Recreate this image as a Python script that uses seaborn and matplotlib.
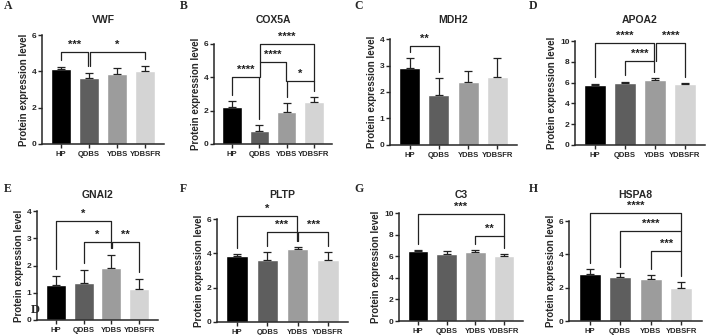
import numpy as np
import pandas as pd
import seaborn as sns
import matplotlib.pyplot as plt

groups = ['HP', 'QDBS', 'YDBS', 'YDBSFR']
colors = ['#000000', '#5e5e5e', '#9c9c9c', '#d4d4d4']

genes = ['VWF', 'COX5A', 'MDH2', 'APOA2', 'GNAI2', 'PLTP', 'C3', 'HSPA8']
letters = ['A', 'B', 'C', 'D', 'E', 'F', 'G', 'H']

vwf_mean = [4.15, 3.62, 3.88, 4.0]
vwf_sd = [0.10, 0.30, 0.32, 0.32]
cox5a_mean = [2.2, 0.8, 1.93, 2.5]
cox5a_sd = [0.40, 0.35, 0.54, 0.30]
mdh2_mean = [2.9, 1.88, 2.37, 2.55]
mdh2_sd = [0.38, 0.64, 0.43, 0.75]
apoa2_mean = [5.8, 5.95, 6.28, 5.88]
apoa2_sd = [0.10, 0.15, 0.17, 0.10]
gnai2_mean = [1.28, 1.35, 1.9, 1.13]
gnai2_sd = [0.35, 0.50, 0.50, 0.39]
pltp_mean = [3.87, 3.6, 4.25, 3.6]
pltp_sd = [0.10, 0.45, 0.10, 0.45]
c3_mean = [6.45, 6.25, 6.4, 6.05]
c3_sd = [0.10, 0.20, 0.15, 0.15]
hspa8_mean = [2.83, 2.65, 2.55, 2.0]
hspa8_sd = [0.32, 0.25, 0.20, 0.32]

means = [vwf_mean, cox5a_mean, mdh2_mean, apoa2_mean, gnai2_mean, pltp_mean, c3_mean, hspa8_mean]
sds = [vwf_sd, cox5a_sd, mdh2_sd, apoa2_sd, gnai2_sd, pltp_sd, c3_sd, hspa8_sd]
ymax = [6, 6, 4, 10, 4, 6, 10, 6]

# significance brackets: (group i, group j, bracket height, label)
sig = [
    [(0, 1, 5.05, '***'), (1, 3, 5.05, '*')],
    [(0, 1, 4.0, '****'), (1, 2, 4.9, '****'), (1, 3, 6.0, '****'), (2, 3, 3.8, '*')],
    [(0, 1, 3.75, '**')],
    [(0, 2, 9.8, '****'), (1, 2, 8.1, '****'), (2, 3, 9.8, '****')],
    [(0, 2, 3.65, '*'), (1, 2, 2.85, '*'), (2, 3, 2.85, '**')],
    [(0, 2, 6.2, '*'), (1, 2, 5.25, '***'), (2, 3, 5.25, '***')],
    [(0, 3, 9.9, '***'), (2, 3, 7.9, '**')],
    [(0, 3, 6.5, '****'), (1, 3, 5.4, '****'), (2, 3, 4.2, '***')],
]

# axes boxes in pixels: left, top, right, bottom
boxes = [(42, 35, 164, 144), (214, 44, 332, 144), (390, 39, 517, 145), (575, 41, 705, 145),
         (37, 211, 158, 320), (217, 219, 348, 322), (399, 213, 523, 321), (569, 221, 702, 321)]
title_y = [20, 20, 20, 20, 195, 195, 195, 195]
letter_xy = [(4, 6), (180, 6), (354, 6), (529, 6), (4, 189), (180, 189), (354, 189), (529, 189)]

W, H = 708, 335
sns.set_style('ticks')
plt.rcParams['font.family'] = ['Liberation Sans', 'DejaVu Sans']
plt.rcParams['font.weight'] = 'bold'
fig = plt.figure(figsize=(W / 100, H / 100), dpi=100)

for k in range(8):
    l, t, r, b = boxes[k]
    ax = fig.add_axes([l / W, 1 - b / H, (r - l) / W, (b - t) / H])
    df = pd.DataFrame({'group': groups, 'value': means[k]})
    sns.barplot(data=df, x='group', y='value', hue='group', palette=colors,
                width=0.72, errorbar=None, legend=False, ax=ax, saturation=1)
    x = np.arange(4)
    ax.errorbar(x, means[k], yerr=[np.zeros(4), sds[k]], fmt='none', ecolor='#222222',
                elinewidth=0.9, capsize=3, capthick=0.9)
    top = np.array(means[k]) + np.array(sds[k])
    ym = ymax[k]
    ax.set_ylim(0, ym)
    ax.set_xlim(-0.67, 3.67)
    step = 1 if ym == 4 else 2
    ax.set_yticks(np.arange(0, ym + 0.01, step))
    ax.set_xlabel('')
    ax.set_ylabel('Protein expression level', fontsize=7, fontweight='bold', labelpad=2)
    ax.tick_params(axis='x', labelsize=5.5, length=3, width=1, pad=2)
    ax.tick_params(axis='y', labelsize=6, length=3, width=1, pad=1)
    sns.despine(ax=ax)
    for s in ['left', 'bottom']:
        ax.spines[s].set_linewidth(1.1)

    brs = sig[k]
    for (i, j, y, lab) in brs:
        def leg_bottom(g):
            lo = top[g] + 0.06 * ym
            for (i2, j2, y2, _) in brs:
                if y2 < y and g in (i2, j2):
                    lo = max(lo, y2)
            return lo
        xi = i + 0.03 if any(j2 == i for (_, j2, _, _) in brs) else i
        xj = j - 0.03 if any(i2 == j for (i2, _, _, _) in brs) else j
        ax.plot([xi, xi, xj, xj], [leg_bottom(i), y, y, leg_bottom(j)], color='#222222',
                lw=0.9, clip_on=False)
        ax.text((xi + xj) / 2, y + 0.02 * ym, lab, ha='center', va='bottom', fontsize=8,
                fontweight='bold', color='#222222', clip_on=False)

    fig.text((l + r) / 2 / W, 1 - title_y[k] / H, genes[k], ha='center', va='center',
             fontsize=7.5, fontweight='bold')
    lx, ly = letter_xy[k]
    fig.text(lx / W, 1 - ly / H, letters[k], ha='left', va='center', fontsize=8.5,
             fontweight='bold', family=['Liberation Serif'])

fig.text(31 / W, 1 - 310 / H, 'D', ha='left', va='center', fontsize=9,
         fontweight='bold', family=['Liberation Serif'])

fig.savefig('out.png', dpi=100)
